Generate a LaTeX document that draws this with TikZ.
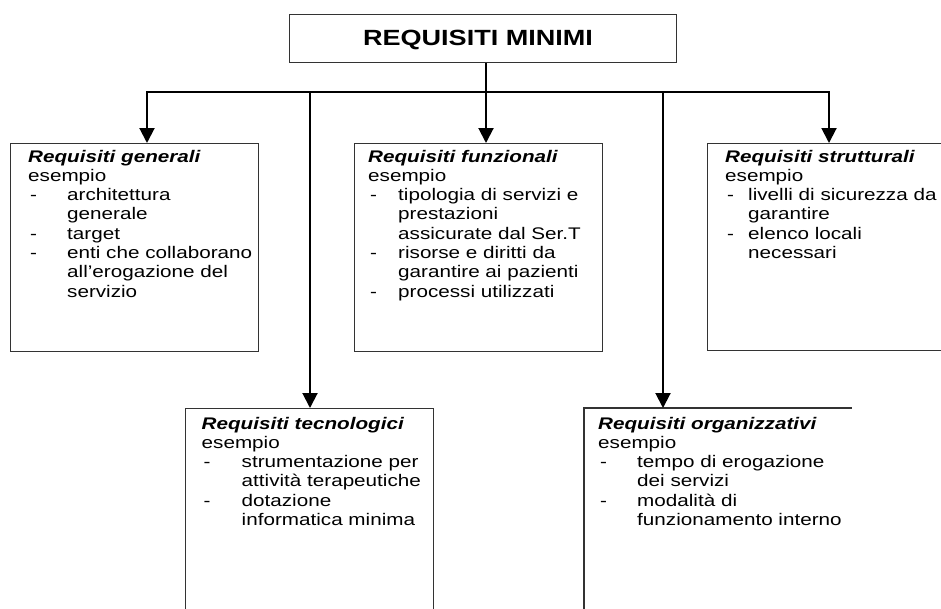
\documentclass[tikz,border=0pt]{standalone}
\usepackage{fontspec}
\setmainfont{Liberation Sans}[FakeStretch=1.23]
\usetikzlibrary{arrows.meta}
\newcommand\ttl[1]{\hbox{\bfseries\itshape #1}}
\newcommand\pl[1]{\hbox{#1}}
\newcommand\itm[2]{\hbox{\makebox[#1][l]{\hspace{2pt}-}#2}}
\newcommand\cnt[2]{\hbox{\hspace*{#1}#2}}
\begin{document}
\begin{tikzpicture}[x=1pt,y=-1pt,
  box/.style={draw=black!80, line width=1.1pt, rectangle, inner sep=0pt, anchor=north west},
  conn/.style={line width=2pt, black},
  arr/.style={conn, -{Triangle[width=15pt,length=15pt]}},
  txt/.style={anchor=base west, inner sep=0pt, font=\fontsize{16.8}{19.3}\selectfont}]
\useasboundingbox (0,0) rectangle (941,608);
\clip (0,0) rectangle (941,608);
\fill[white] (0,0) rectangle (941,608);

% boxes
\node[box, minimum width=387pt, minimum height=48pt] (top) at (289,14) {};
\node[anchor=base, inner sep=0pt, font=\fontsize{22}{26}\selectfont\bfseries] (toptxt) at (478,45) {REQUISITI MINIMI};

\node[box, minimum width=248pt, minimum height=208pt] (gen) at (10,143) {};
\node[box, minimum width=248pt, minimum height=208pt] (fun) at (354,143) {};
\node[box, minimum width=260pt, minimum height=207pt] (str) at (707,143) {};
\node[box, minimum width=248pt, minimum height=250pt] (tec) at (185,408) {};
\node[box, draw=none, minimum width=267pt, minimum height=250pt] (org) at (584,408) {};
\draw[draw=black!80, line width=1.1pt] (org.south west) -- (org.north west) -- (org.north east);

% texts
\node[txt] (gent) at (28,162) {\vtop{\ttl{Requisiti generali}\pl{esempio}\itm{39pt}{architettura}\cnt{39pt}{generale}\itm{39pt}{target}\itm{39pt}{enti che collaborano}\cnt{39pt}{all’erogazione del}\cnt{39pt}{servizio}}};
\node[txt] (funt) at (368,162) {\vtop{\ttl{Requisiti funzionali}\pl{esempio}\itm{30pt}{tipologia di servizi e}\cnt{30pt}{prestazioni}\cnt{30pt}{assicurate dal Ser.T}\itm{30pt}{risorse e diritti da}\cnt{30pt}{garantire ai pazienti}\itm{30pt}{processi utilizzati}}};
\node[txt] (strt) at (725,162) {\vtop{\ttl{Requisiti strutturali}\pl{esempio}\itm{23pt}{livelli di sicurezza da}\cnt{23pt}{garantire}\itm{23pt}{elenco locali}\cnt{23pt}{necessari}}};
\node[txt] (tect) at (201.5,429) {\vtop{\ttl{Requisiti tecnologici}\pl{esempio}\itm{40pt}{strumentazione per}\cnt{40pt}{attività terapeutiche}\itm{40pt}{dotazione}\cnt{40pt}{informatica minima}}};
\node[txt] (orgt) at (598,429) {\vtop{\ttl{Requisiti organizzativi}\pl{esempio}\itm{39pt}{tempo di erogazione}\cnt{39pt}{dei servizi}\itm{39pt}{modalità di}\cnt{39pt}{funzionamento interno}}};

% connectors
\coordinate (j) at (486,92);
\coordinate (bL) at (147,92);
\coordinate (bR) at (829,92);
\coordinate (b2) at (310,92);
\coordinate (b4) at (663,92);
\draw[conn] (j |- top.south) -- (j);
\draw[conn, line cap=rect] (bL) -- (bR);
\draw[arr] (bL) -- (bL |- gen.north);
\draw[arr] (j) -- (j |- fun.north);
\draw[arr] (bR) -- (bR |- str.north);
\draw[arr] (b2) -- (b2 |- tec.north);
\draw[arr] (b4) -- (b4 |- org.north);
\end{tikzpicture}
\end{document}
